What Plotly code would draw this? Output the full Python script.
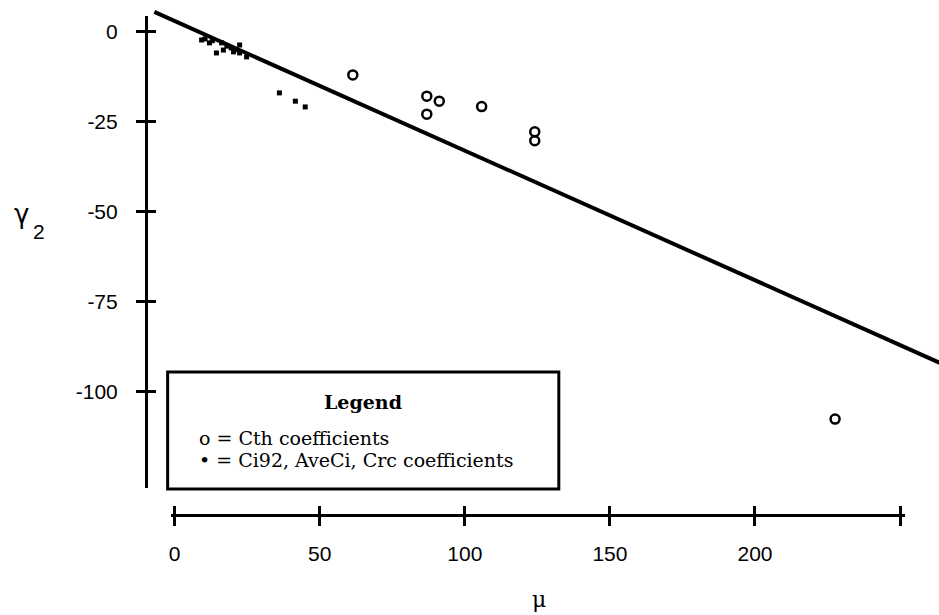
import plotly.graph_objects as go

# ---- data ----
cth_mu = [61.4, 86.9, 91.2, 86.9, 105.8, 124.1, 124.1, 227.6]
cth_g2 = [-12.0, -17.9, -19.3, -22.9, -20.8, -27.8, -30.3, -107.6]

ci_mu = [9.3, 10.5, 12.0, 13.0, 14.4, 16.2, 16.8, 18.0, 19.5, 20.3, 21.0, 22.4, 22.4, 24.8, 36.1, 41.6, 45.0]
ci_g2 = [-2.3, -2.0, -3.1, -2.5, -5.9, -3.1, -5.1, -4.0, -4.5, -5.6, -5.0, -3.7, -5.9, -7.0, -17.0, -19.3, -20.9]

fit_mu = [-7.0, 264.0]
fit_g2 = [5.5, -92.1]

x_ticks = [0, 50, 100, 150, 200, 250]
x_ticktext = ["0", "50", "100", "150", "200", ""]
y_ticks = [0, -25, -50, -75, -100]
y_ticktext = ["0", "-25", "-50", "-75", "-100"]

# ---- geometry (pixels) ----
W, H = 939, 615
X0PX, XSCALE = 173.0, 2.908     # px of mu=0, px per unit
Y0PX, YSCALE = 31.7, 3.6        # px of g2=0, px per unit

def mu_at(px):
    return (px - X0PX) / XSCALE

def g_at(py):
    return -(py - Y0PX) / YSCALE

def fx(px):
    return px / W

def fy(py):
    return 1 - py / H

AX_Y = 515      # x axis line pixel row
AX_X = 144      # y axis line pixel column
XA_L, XA_R = 169, 905
YA_T, YA_B = 16, 488

black = "#000000"
fig = go.Figure()

fig.add_trace(go.Scatter(x=fit_mu, y=fit_g2, mode="lines",
                         line=dict(color=black, width=4), showlegend=False, hoverinfo="skip"))
fig.add_trace(go.Scatter(x=ci_mu, y=ci_g2, mode="markers",
                         marker=dict(symbol="square", size=5, color=black), showlegend=False))
fig.add_trace(go.Scatter(x=cth_mu, y=cth_g2, mode="markers",
                         marker=dict(symbol="circle-open", size=9, color=black, line=dict(width=2.5)),
                         showlegend=False))
# carriers for the detached axes
fig.add_trace(go.Scatter(x=[], y=[], xaxis="x2", yaxis="y2", showlegend=False))
fig.add_trace(go.Scatter(x=[], y=[], xaxis="x3", yaxis="y3", showlegend=False))

tickfont = dict(family="Liberation Sans, Arial, sans-serif", size=21, color=black)

fig.update_layout(
    width=W, height=H,
    margin=dict(l=0, r=0, t=0, b=0),
    paper_bgcolor="white", plot_bgcolor="rgba(0,0,0,0)",
    xaxis=dict(range=[mu_at(0), mu_at(W)], visible=False, domain=[0, 1]),
    yaxis=dict(range=[g_at(H), g_at(0)], visible=False, domain=[0, 1]),
    xaxis2=dict(domain=[fx(XA_L), fx(XA_R)], range=[mu_at(XA_L), mu_at(XA_R)],
                anchor="free", position=fy(AX_Y),
                showline=True, linecolor=black, linewidth=2.5,
                showgrid=False, zeroline=False,
                ticks="outside", ticklen=9, tickwidth=2.5, tickcolor=black,
                tickvals=x_ticks, ticktext=x_ticktext, tickfont=tickfont,
                ticklabelstandoff=10),
    yaxis2=dict(domain=[fy(YA_B), fy(YA_T)], range=[g_at(YA_B), g_at(YA_T)],
                anchor="free", position=fx(AX_X),
                showline=True, linecolor=black, linewidth=2.5,
                showgrid=False, zeroline=False,
                ticks="outside", ticklen=9, tickwidth=2.5, tickcolor=black,
                tickvals=y_ticks, ticktext=y_ticktext, tickfont=tickfont,
                ticklabelstandoff=14),
    xaxis3=dict(domain=[fx(XA_L), fx(XA_R)], range=[mu_at(XA_L), mu_at(XA_R)],
                anchor="free", position=fy(AX_Y), overlaying="x2",
                showline=False, showgrid=False, zeroline=False,
                ticks="inside", ticklen=9, tickwidth=2.5, tickcolor=black,
                tickvals=x_ticks, showticklabels=False),
    yaxis3=dict(domain=[fy(YA_B), fy(YA_T)], range=[g_at(YA_B), g_at(YA_T)],
                anchor="free", position=fx(AX_X), overlaying="y2",
                showline=False, showgrid=False, zeroline=False,
                ticks="inside", ticklen=9, tickwidth=2.5, tickcolor=black,
                tickvals=y_ticks, showticklabels=False),
    showlegend=False,
)

# legend box
fig.add_shape(type="rect", xref="paper", yref="paper",
              x0=fx(166), x1=fx(558), y0=fy(489), y1=fy(372),
              line=dict(color=black, width=3), fillcolor="white", layer="above")

serif = "DejaVu Serif, Liberation Serif, serif"
fig.add_annotation(xref="paper", yref="paper", x=fx(362), y=fy(402), text="<b>Legend</b>",
                   showarrow=False, xanchor="center", yanchor="middle",
                   font=dict(family=serif, size=19, color=black))
fig.add_annotation(xref="paper", yref="paper", x=fx(196), y=fy(438), text="o = Cth coefficients",
                   showarrow=False, xanchor="left", yanchor="middle", borderpad=0,
                   font=dict(family=serif, size=19, color=black))
fig.add_annotation(xref="paper", yref="paper", x=fx(196), y=fy(460),
                   text="\u2022 = Ci92, AveCi, Crc coefficients",
                   showarrow=False, xanchor="left", yanchor="middle", borderpad=0,
                   font=dict(family=serif, size=19, color=black))

# axis titles
fig.add_annotation(xref="paper", yref="paper", x=fx(538), y=fy(599), text="\u03bc",
                   showarrow=False, xanchor="center", yanchor="middle", borderpad=0,
                   font=dict(family="DejaVu Serif, serif", size=22, color=black))
fig.add_annotation(xref="paper", yref="paper", x=fx(20), y=fy(214), text="\u03b3",
                   showarrow=False, xanchor="center", yanchor="middle",
                   font=dict(family="DejaVu Sans, sans-serif", size=26, color=black))
fig.add_annotation(xref="paper", yref="paper", x=fx(37), y=fy(231), text="2",
                   showarrow=False, xanchor="center", yanchor="middle",
                   font=dict(family="Liberation Sans, Arial, sans-serif", size=21, color=black))

fig.write_html("out.html",
               config={"displayModeBar": False},
               post_script="document.body.style.margin='0px';document.body.style.overflow='hidden';")
